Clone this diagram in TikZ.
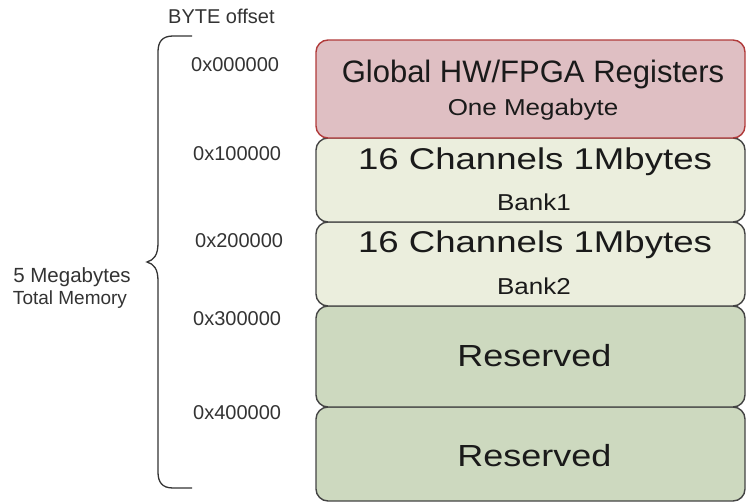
\documentclass[tikz,border=0pt]{standalone}
\usepackage{fontspec}
\setmainfont{Liberation Sans}
\definecolor{redfill}{HTML}{DFBFC3}
\definecolor{redline}{HTML}{B03A3A}
\definecolor{palefill}{HTML}{EBEEDD}
\definecolor{greenfill}{HTML}{CDD9BF}
\definecolor{boxline}{HTML}{444444}
\definecolor{txt}{HTML}{1A1A1A}
\definecolor{lbl}{HTML}{333333}
\begin{document}
\begin{tikzpicture}[x=1pt,y=-1pt,
  mem/.style={draw=boxline, line width=1.4pt, rounded corners=12pt, minimum width=429pt, inner sep=0pt},
  regbox/.style={mem, draw=redline, fill=redfill},
  bankbox/.style={mem, fill=palefill},
  resbox/.style={mem, fill=greenfill},
  big/.style={anchor=base, text=txt, inner sep=0pt},
  lbltext/.style={anchor=base west, text=lbl, inner sep=0pt, font=\fontsize{20}{20}\selectfont},
  brace/.style={draw=lbl, line width=1.3pt}
]
\useasboundingbox (0,0) rectangle (746,501);
% boxes (bottom first so the upper border lies on top)
\node[resbox, minimum height=94pt] (b5) at (530.5,454) {};
\node[resbox, minimum height=101pt] (b4) at (530.5,356.5) {};
\node[bankbox, minimum height=84pt] (b3) at (530.5,264) {};
\node[bankbox, minimum height=84pt] (b2) at (530.5,180) {};
\node[regbox, minimum height=98pt] (b1) at (530.5,89) {};
% box texts
\node[big] (t1) at (533,82) {\fontsize{31}{31}\selectfont Global HW/FPGA Registers};
\node[big] (s1) at (533,115) {\fontsize{23}{23}\selectfont\scalebox{1.13}[1]{One Megabyte}};
\node[big] (t2) at (535,169) {\fontsize{30}{30}\selectfont\scalebox{1.22}[1]{16 Channels 1Mbytes}};
\node[big] (s2) at (534,210) {\fontsize{23}{23}\selectfont\scalebox{1.13}[1]{Bank1}};
\node[big] (t3) at (535,252) {\fontsize{30}{30}\selectfont\scalebox{1.22}[1]{16 Channels 1Mbytes}};
\node[big] (s3) at (534,294) {\fontsize{23}{23}\selectfont\scalebox{1.13}[1]{Bank2}};
\node[big] (t4) at (534.5,366) {\fontsize{30.5}{30.5}\selectfont\scalebox{1.18}[1]{Reserved}};
\node[big] (t5) at (534.5,466) {\fontsize{30.5}{30.5}\selectfont\scalebox{1.18}[1]{Reserved}};
% offsets
\node[lbltext] (hdr) at (168,23) {BYTE offset};
\node[lbltext] (o0) at (191,71) {0x000000};
\node[lbltext] (o1) at (193,160) {0x100000};
\node[lbltext] (o2) at (195,247) {0x200000};
\node[lbltext] (o3) at (193,325) {0x300000};
\node[lbltext] (o4) at (193,419) {0x400000};
% total memory label
\node[anchor=base, text=lbl, inner sep=0pt, font=\fontsize{20.5}{20.5}\selectfont] (m1) at (72,282) {5 Megabytes};
\node[anchor=base, text=lbl, inner sep=0pt, font=\fontsize{19}{19}\selectfont] (m2) at (70,304) {Total Memory};
% brace
\coordinate (btop) at (192,36);
\coordinate (bbot) at (192,488);
\coordinate (btip) at (147,262);
\draw[brace] (btop) -- (173,36) .. controls (162,36) and (158,42) .. (158,52)
  -- (158,243) .. controls (158,255) and (154,260) .. (btip)
  .. controls (154,264) and (158,269) .. (158,281)
  -- (158,472) .. controls (158,482) and (162,488) .. (173,488) -- (bbot);
\end{tikzpicture}
\end{document}
